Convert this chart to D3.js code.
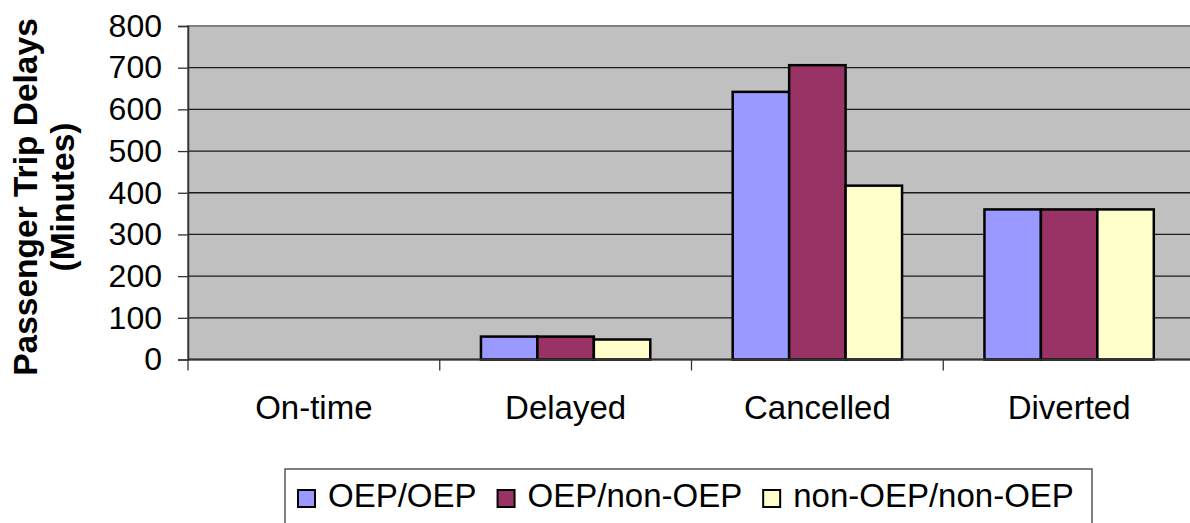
<!DOCTYPE html>
<html>
<head>
<meta charset="utf-8">
<script src="https://cdn.jsdelivr.net/npm/d3@7"></script>
<style>
  body { margin: 0; background: #fff; }
  svg { display: block; font-family: Arial, "Liberation Sans", sans-serif; }
</style>
</head>
<body>
<svg id="chart" width="1190" height="523"></svg>
<script>
// chart data
const categories = ['On-time', 'Delayed', 'Cancelled', 'Diverted'];
const seriesNames = ['OEP/OEP', 'OEP/non-OEP', 'non-OEP/non-OEP'];
const oepOep = [0, 55, 642, 360];
const oepNonOep = [0, 55, 706, 360];
const nonOepNonOep = [0, 48, 417, 360];
const yTicks = [0, 100, 200, 300, 400, 500, 600, 700, 800];
const colors = ['#9999FF', '#993366', '#FFFFCC'];

const seriesValues = [oepOep, oepNonOep, nonOepNonOep];
const rows = categories.map((c, i) => ({
  category: c,
  values: seriesNames.map((s, j) => ({ series: s, value: seriesValues[j][i], color: colors[j] }))
}));

const svg = d3.select('#chart');
const plot = { left: 188, top: 26, right: 1195, bottom: 359.5 };

const x = d3.scaleBand()
  .domain(categories)
  .range([plot.left, plot.right]);

const xInner = d3.scaleBand()
  .domain(seriesNames)
  .range([0, x.bandwidth()])
  .paddingOuter(0.73);

const y = d3.scaleLinear()
  .domain([0, 800])
  .range([plot.bottom, plot.top]);

// plot background
svg.append('rect')
  .attr('x', plot.left)
  .attr('y', plot.top)
  .attr('width', plot.right - plot.left)
  .attr('height', plot.bottom - plot.top)
  .attr('fill', '#C0C0C0')
  .attr('stroke', '#808080')
  .attr('stroke-width', 2);

// gridlines
svg.append('g')
  .selectAll('line')
  .data(yTicks.filter(t => t > 0 && t < 800))
  .enter()
  .append('line')
  .attr('x1', plot.left)
  .attr('x2', plot.right)
  .attr('y1', d => y(d))
  .attr('y2', d => y(d))
  .attr('stroke', '#1a1a1a')
  .attr('stroke-width', 1.3);

// bars
svg.append('g')
  .selectAll('g')
  .data(rows)
  .enter()
  .append('g')
  .attr('transform', d => `translate(${x(d.category)},0)`)
  .selectAll('rect')
  .data(d => d.values.filter(v => v.value > 0))
  .enter()
  .append('rect')
  .attr('x', d => xInner(d.series))
  .attr('y', d => y(d.value))
  .attr('width', xInner.bandwidth())
  .attr('height', d => y(0) - y(d.value))
  .attr('fill', d => d.color)
  .attr('stroke', '#000')
  .attr('stroke-width', 2.5);

// y axis
const yAxis = svg.append('g')
  .attr('transform', `translate(${plot.left},0)`)
  .call(d3.axisLeft(y).tickValues(yTicks).tickSize(10).tickPadding(16));
yAxis.select('.domain').attr('stroke', '#333').attr('stroke-width', 1.5);
yAxis.selectAll('.tick line').attr('stroke', '#333').attr('stroke-width', 1.3);
yAxis.selectAll('.tick text')
  .attr('font-size', 32)
  .attr('fill', '#000')
  .style('font-family', 'Arial, "Liberation Sans", sans-serif');

// x axis: ticks on category boundaries
const xAxis = svg.append('g')
  .attr('transform', `translate(0,${plot.bottom})`);
xAxis.append('line')
  .attr('x1', plot.left)
  .attr('x2', plot.right)
  .attr('stroke', '#333')
  .attr('stroke-width', 2);
xAxis.selectAll('.bound')
  .data(categories)
  .enter()
  .append('line')
  .attr('x1', d => x(d))
  .attr('x2', d => x(d))
  .attr('y1', 0)
  .attr('y2', 11)
  .attr('stroke', '#333')
  .attr('stroke-width', 1.3);
xAxis.selectAll('text')
  .data(categories)
  .enter()
  .append('text')
  .attr('x', d => x(d) + x.bandwidth() / 2)
  .attr('y', 59)
  .attr('text-anchor', 'middle')
  .attr('font-size', 33)
  .text(d => d);

// y axis title
const title = svg.append('text')
  .attr('transform', 'translate(37,197) rotate(-90)')
  .attr('text-anchor', 'middle')
  .attr('font-size', 33.5)
  .attr('font-weight', 'bold');
title.append('tspan').attr('x', 0).attr('y', 0).text('Passenger Trip Delays');
title.append('tspan').attr('x', 0).attr('y', 37).text('(Minutes)');

// legend
const legend = svg.append('g');
legend.append('rect')
  .attr('x', 285)
  .attr('y', 469)
  .attr('width', 1092 - 285)
  .attr('height', 80)
  .attr('fill', '#fff')
  .attr('stroke', '#555')
  .attr('stroke-width', 1.5);

let lx = 298;
seriesNames.forEach((s, i) => {
  legend.append('rect')
    .attr('x', lx)
    .attr('y', 490)
    .attr('width', 17)
    .attr('height', 17)
    .attr('fill', colors[i])
    .attr('stroke', '#000')
    .attr('stroke-width', 2);
  const t = legend.append('text')
    .attr('x', lx + 30)
    .attr('y', 507)
    .attr('font-size', 33)
    .text(s);
  lx = lx + 30 + t.node().getComputedTextLength() + 21;
});
</script>
</body>
</html>
